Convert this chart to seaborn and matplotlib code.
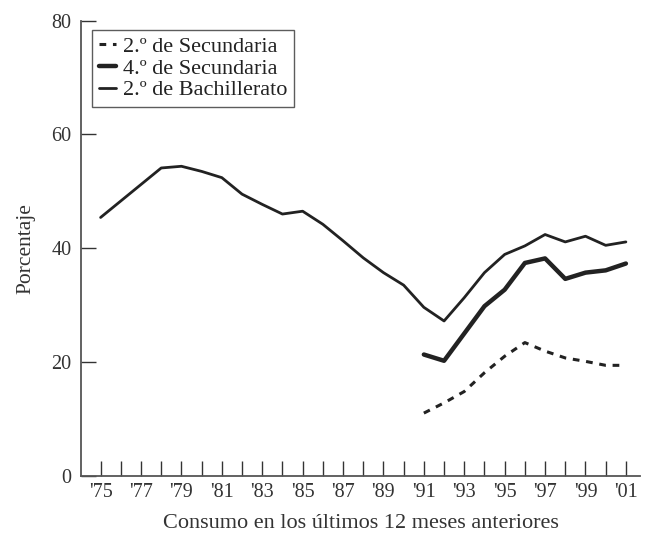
import numpy as np
import pandas as pd
import seaborn as sns
import matplotlib.pyplot as plt

years = list(range(1975, 2002))

# 2.º de Bachillerato (1975-2001)
bachillerato = [45.4, 48.3, 51.2, 54.1, 54.4, 53.5, 52.4, 49.5, 47.7, 46.0,
                46.5, 44.2, 41.3, 38.3, 35.7, 33.5, 29.6, 27.2, 31.3, 35.7,
                38.9, 40.4, 42.4, 41.1, 42.1, 40.5, 41.1]
# 4.º de Secundaria (1991-2001)
sec4 = [21.3, 20.2, 25.0, 29.8, 32.7, 37.4, 38.2, 34.6, 35.7, 36.1, 37.3]
# 2.º de Secundaria (1991-2001)
sec2 = [11.0, 12.8, 14.8, 18.1, 21.0, 23.4, 21.9, 20.7, 20.1, 19.4, 19.4]

labels = ["2.º de Secundaria", "4.º de Secundaria", "2.º de Bachillerato"]
tick_years = list(range(1975, 2002, 2))
tick_labels = ["'" + str(y)[2:] for y in tick_years]

sns.set_style("ticks")
plt.rcParams['font.family'] = ['Liberation Serif', 'DejaVu Serif']

df_bach = pd.DataFrame({"year": years, "value": bachillerato})
df_s4 = pd.DataFrame({"year": years[16:], "value": sec4})
df_s2 = pd.DataFrame({"year": years[16:], "value": sec2})

fig = plt.figure(figsize=(6.45, 5.37), dpi=100)
ax = fig.add_axes([0.1256, 0.1142, 0.8667, 0.8473])

ink = "#222222"
sns.lineplot(data=df_s2, x="year", y="value", ax=ax, color=ink, lw=2.2,
             linestyle=(0, (2.2, 2.2)), label=labels[0])
sns.lineplot(data=df_s4, x="year", y="value", ax=ax, color=ink, lw=3.2,
             label=labels[1])
sns.lineplot(data=df_bach, x="year", y="value", ax=ax, color=ink, lw=2.0,
             label=labels[2])

ax.set_xlim(1974.03, 2001.7)
ax.set_ylim(0, 80)
ax.set_xticks(years, minor=True)
ax.set_xticks(tick_years)
ax.set_xticklabels(tick_labels)
ax.set_yticks([0, 20, 40, 60, 80])
ax.tick_params(axis='x', which='both', direction='in', length=11, width=1,
               color='#333333', labelsize=14.5, pad=5)
ax.tick_params(axis='y', direction='in', length=11, width=1,
               color='#333333', labelsize=14.5, pad=7)
for s in ['top', 'right']:
    ax.spines[s].set_visible(False)
for s in ['left', 'bottom']:
    ax.spines[s].set_color('#555555')
    ax.spines[s].set_linewidth(1.3)

ax.set_xlabel("Consumo en los últimos 12 meses anteriores", fontsize=16,
              color='#333333', labelpad=9)
ax.set_ylabel("Porcentaje", fontsize=15.5, color='#333333', labelpad=11)
for t in ax.get_xticklabels() + ax.get_yticklabels():
    t.set_color('#333333')

leg = ax.legend(loc='upper left', bbox_to_anchor=(0.0197, 0.98),
                borderaxespad=0, fontsize=16, frameon=True, fancybox=False,
                handlelength=0.8, handletextpad=0.3, labelspacing=0.05,
                borderpad=0.3)
leg.get_frame().set_edgecolor('#333333')
leg.get_frame().set_linewidth(1.0)
for t in leg.get_texts():
    t.set_color('#222222')

fig.savefig("out.png", dpi=100)
